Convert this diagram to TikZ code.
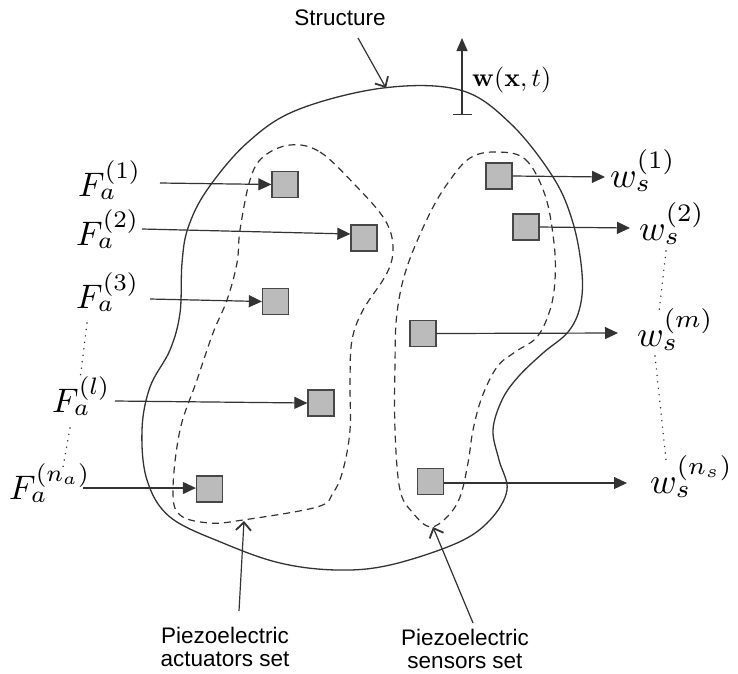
\documentclass[tikz,border=0pt]{standalone}
\usepackage{amsmath}
\usepackage{graphicx}
\usepackage[no-math]{fontspec}
\setmainfont{Liberation Sans}
\usetikzlibrary{arrows.meta,calc}
\definecolor{ink}{HTML}{333333}
\definecolor{patch}{HTML}{BBBBBB}
\newcommand{\bigF}[1]{\scalebox{3.4}{$#1$}}
\newcommand{\bigW}[1]{\scalebox{3.6}{$#1$}}
\begin{document}
\begin{tikzpicture}[x=1pt,y=-1pt,
  outline/.style={draw=ink,line width=1.3pt},
  setline/.style={draw=ink,line width=1.2pt,dash pattern=on 7pt off 5pt},
  patchbox/.style={draw=ink!90,fill=patch,line width=1.3pt,minimum size=26pt,inner sep=0pt},
  sig/.style={draw=ink,line width=1.2pt,-{Triangle[length=13pt,width=12pt]}},
  pointer/.style={draw=ink,line width=1.2pt,-{Straight Barb[length=8pt,width=15pt,line width=1.8pt]}},
  mlab/.style={anchor=base west,inner sep=0pt},
  txt/.style={inner sep=0pt,align=center,font=\fontsize{22.5}{23.5}\selectfont},
  ellip/.style={draw=ink,line width=1.6pt,line cap=round,dash pattern=on 0pt off 6.5pt}]
\useasboundingbox (0,0) rectangle (738,673);
% structure
\draw[outline] plot[smooth cycle,tension=0.6] coordinates {
 (383,88) (460,90) (510,123) (553,177) (573,223) (582,273) (580,307) (568,332)
 (543,353) (518,377) (502,400) (493,430) (499,460) (507,490) (490,520) (457,543)
 (390,565) (337,570) (280,563) (223,543) (170,517) (147,480) (142,430) (150,387)
 (170,350) (180,313) (182,263) (188,228) (207,190) (247,143) (297,110)};
% actuator set
\draw[setline] plot[smooth cycle,tension=0.6] coordinates {
 (290,145) (320,152) (357,187) (385,220) (393,247) (387,273) (363,310) (352,340)
 (350,380) (350,430) (343,470) (333,493) (317,507) (243,520) (210,523) (180,515)
 (173,490) (180,430) (197,380) (213,333) (227,300) (237,263) (240,230) (250,180) (263,157)};
% sensor set
\draw[setline] plot[smooth cycle,tension=0.6] coordinates {
 (495,152) (525,159) (545,195) (554,243) (555,280) (550,310) (537,337) (515,352)
 (497,367) (482,397) (473,430) (468,463) (460,497) (447,517) (430,527) (413,513)
 (400,490) (395,430) (395,363) (397,313) (407,267) (430,213) (450,180) (470,158)};
% patches
\node[patchbox] (a1) at (285,184.5) {};
\node[patchbox] (a2) at (364,238) {};
\node[patchbox] (a3) at (275.5,301.5) {};
\node[patchbox] (a4) at (321,403) {};
\node[patchbox] (a5) at (209.5,489) {};
\node[patchbox] (s1) at (499,176) {};
\node[patchbox] (s2) at (526,227) {};
\node[patchbox] (s3) at (423,333.5) {};
\node[patchbox] (s4) at (430.5,481.5) {};
% force labels
\node[mlab] (fa1) at (78,196) {\bigF{F_a^{(1)}}};
\node[mlab] (fa2) at (76,245) {\bigF{F_a^{(2)}}};
\node[mlab] (fa3) at (76,308) {\bigF{F_a^{(3)}}};
\node[mlab] (fal) at (52,412) {\bigF{F_a^{(l)}}};
\node[mlab] (fan) at (9,499) {\bigF{F_a^{(n_a)}}};
\coordinate (fa1s) at (160,183);
\coordinate (fa2s) at (142,229);
\coordinate (fa3s) at (150,299);
\coordinate (fals) at (115,401);
\coordinate (fans) at (83,488);
\draw[sig] (fa1s) -- (a1.west);
\draw[sig] (fa2s) -- ([yshift=4pt]a2.west);
\draw[sig] (fa3s) -- (a3.west);
\draw[sig] (fals) -- (a4.west);
\draw[sig] (fans) -- ([yshift=1pt]a5.west);
% sensor outputs
\node[mlab] (ws1) at (610,187) {\bigW{w_s^{(1)}}};
\node[mlab] (ws2) at (639,240) {\bigW{w_s^{(2)}}};
\node[mlab] (wsm) at (637,346) {\bigW{w_s^{(m)}}};
\node[mlab] (wsn) at (650,493) {\bigW{w_s^{(n_s)}}};
\coordinate (ws1e) at (605,177);
\coordinate (ws2e) at (630,228);
\coordinate (wsme) at (618,333);
\coordinate (wsne) at (627,483);
\draw[sig] (s1.east) -- (ws1e);
\draw[sig] (s2.east) -- (ws2e);
\draw[sig] (s3.east) -- (wsme);
\draw[sig] ([yshift=-1.5pt]s4.east) -- (wsne);
% ellipses
\coordinate (d1a) at (87,323); \coordinate (d1b) at (80,380);
\coordinate (d2a) at (70,428); \coordinate (d2b) at (63,467);
\coordinate (d3a) at (666,251); \coordinate (d3b) at (659,312);
\coordinate (d4a) at (655,356); \coordinate (d4b) at (666,460);
\draw[ellip] (d1a) -- (d1b);
\draw[ellip] (d2a) -- (d2b);
\draw[ellip] (d3a) -- (d3b);
\draw[ellip] (d4a) -- (d4b);
% displacement
\coordinate (wb) at (462,115);
\coordinate (wt) at (462,38);
\draw[draw=ink,line width=1.3pt,{Bar[width=19pt,line width=1.3pt]}-{Triangle[length=13pt,width=11pt]}] (wb) -- (wt);
\node[anchor=west,inner sep=0pt] (wlab) at (472,80) {\scalebox{2.6}{$\mathbf{w}(\mathbf{x},t)$}};
% text labels
\node[txt] (struct) at (340,18) {Structure};
\coordinate (structs) at (358,38);
\coordinate (structe) at (386,88);
\draw[pointer] (structs) -- (structe);
\node[txt] (actl) at (225,647) {Piezoelectric\\actuators set};
\coordinate (acts) at (239,611);
\coordinate (acte) at (244,521);
\draw[pointer] (acts) -- (acte);
\node[txt] (senl) at (465,649) {Piezoelectric\\sensors set};
\coordinate (sens) at (473,623);
\coordinate (sene) at (433,527);
\draw[pointer] (sens) -- (sene);
\end{tikzpicture}
\end{document}
